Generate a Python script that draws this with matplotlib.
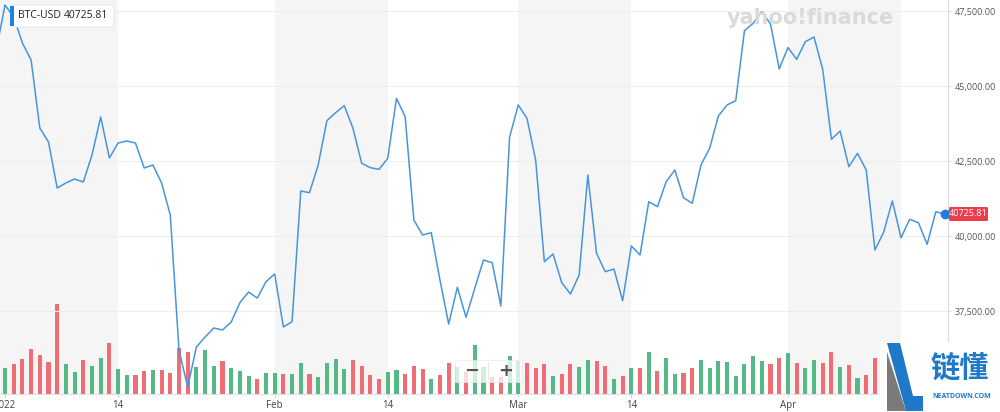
import matplotlib
matplotlib.use("Agg")
import matplotlib.pyplot as plt
import matplotlib.dates as mdates
from matplotlib.patches import FancyBboxPatch, Rectangle, Polygon
import numpy as np
import pandas as pd

plt.rcParams['font.family'] = ['Open Sans', 'DejaVu Sans']

# daily BTC-USD closes, Dec 31 2021 .. Apr 19 2022
dates = pd.date_range('2021-12-31', '2022-04-19', freq='D')
close = [46200,
         # Jan
         47700, 47300, 46433, 45867, 43600, 43133, 41600, 41767, 41900, 41800,
         42700, 43967, 42600, 43100, 43167, 43100, 42267, 42367, 41767, 40700,
         36200, 34967, 36300, 36633, 36933, 36867, 37133, 37777, 38133, 37933,
         38477,
         # Feb
         38733, 36967, 37143, 41500, 41443, 42367, 43843, 44110, 44343, 43590,
         42423, 42277, 42223, 42590, 44590, 43977, 40533, 40033, 40110, 38533,
         37067, 38290, 37290, 38257, 39200, 39110, 37667, 43290,
         # Mar
         44367, 43923, 42533, 39143, 39400, 38443, 38067, 38700, 42033, 39423,
         38810, 38900, 37843, 39667, 39367, 41143, 40977, 41810, 42200, 41277,
         41090, 42367, 42923, 44000, 44367, 44510, 46843, 47090, 47477, 47067,
         45567,
         # Apr
         46283, 45890, 46477, 46633, 45550, 43223, 43500, 42310, 42757, 42200,
         39533, 40123, 41167, 39943, 40557, 40443, 39723, 40810, 40725.81]

# volume, billions USD
volume = [36.0,
          24.0, 27.8, 32.7, 42.1, 36.5, 29.9, 84.2, 27.8, 20.6, 31.8,
          26.2, 33.4, 47.7, 23.1, 17.5, 17.5, 21.5, 22.4, 22.4, 19.9,
          42.7, 39.6, 25.2, 41.1, 26.2, 31.1, 24.6, 21.5, 16.8, 14.3,
          19.9,
          19.9, 18.4, 18.4, 29.3, 19.0, 16.2, 28.7, 32.4, 23.1, 31.8,
          26.2, 17.5, 14.3, 20.6, 22.2, 19.0, 26.2, 23.1, 13.7, 17.5,
          28.7, 25.2, 20.6, 45.8, 25.0, 15.9, 15.9, 35.5,
          30.9, 28.7, 24.6, 27.8, 16.8, 19.0, 27.8, 25.2, 31.8, 30.9,
          26.2, 14.3, 16.8, 24.0, 24.0, 39.6, 21.5, 33.9, 19.0, 19.9,
          24.0, 31.8, 24.6, 30.9, 29.9, 16.8, 27.8, 35.5, 30.9, 28.3,
          33.4,
          38.1, 28.7, 24.6, 31.8, 29.3, 39.0, 25.2, 26.8, 15.2, 17.5,
          33.4, 30.0, 27.0, 26.0, 25.0, 16.0, 15.0, 27.0, 28.0]

price_ticks = [37500, 40000, 42500, 45000, 47500]
tick_dates = ['2022-01-01', '2022-01-14', '2022-02-01', '2022-02-14',
              '2022-03-01', '2022-03-14', '2022-04-01']
tick_labels = ['2022', '14', 'Feb', '14', 'Mar', '14', 'Apr']
band_ranges = [('2021-12-25', '2022-01-14'), ('2022-02-01', '2022-02-14'),
               ('2022-03-01', '2022-03-14'), ('2022-04-01', '2022-04-14')]

last_price = close[-1]

x = mdates.date2num(dates)
d0 = mdates.date2num(pd.Timestamp('2022-01-01'))

fig = plt.figure(figsize=(10, 4.12), dpi=100)
W, H = 1000, 412
def fx(px):
    return px / W
def fy(py):
    return 1 - py / H

ax = fig.add_axes([0, fy(394), fx(948), 1 - fy(394)])
ax.set_xlim(d0 - 0.575, d0 + 108.4)
ax.set_ylim(0, 368.4)

for a, b in band_ranges:
    ax.axvspan(mdates.date2num(pd.Timestamp(a)), mdates.date2num(pd.Timestamp(b)),
               color='#f5f5f5', zorder=0, lw=0)

up = np.r_[True, np.diff(close) >= 0]
colors = np.where(up, '#55b985', '#ef6d74')
ax.bar(x, volume, width=0.47, color=colors, zorder=2)

ax.set_yticks([])
ax.set_xticks([mdates.date2num(pd.Timestamp(d)) for d in tick_dates])
ax.set_xticklabels(tick_labels)
ax.tick_params(axis='x', length=2, color='#cccccc', labelsize=7,
               labelcolor='#444444', pad=2)
for s in ['top', 'left', 'right']:
    ax.spines[s].set_visible(False)
ax.spines['bottom'].set_color('#e0e0e0')

axp = ax.twinx()
axp.set_ylim(47500 - 383 * 2500 / 75, 47500 + 11 * 2500 / 75)
axp.set_yticks(price_ticks)
axp.set_yticklabels(['{:,.2f}'.format(v) for v in price_ticks])
axp.tick_params(axis='y', length=2, color='#dddddd', labelsize=6.5,
                labelcolor='#555555', pad=2.5)
axp.grid(axis='y', color='#eeeeee', lw=0.8, zorder=1)
axp.set_axisbelow(True)
for s in ['top', 'left', 'bottom']:
    axp.spines[s].set_visible(False)
axp.spines['right'].set_color('#dddddd')
axp.plot(x, close, color='#4895dc', lw=1.1, zorder=5)
axp.plot(x[-1], last_price, 'o', color='#1a7ee0', ms=6, zorder=6, clip_on=False)

# yahoo finance watermark
fig.text(fx(810), fy(18), 'yahoo!finance', ha='center', va='center',
         fontsize=15, fontweight='bold', color='#dadada', family='DejaVu Sans')

# last price tag
fig.patches.append(FancyBboxPatch((fx(949), fy(221)), fx(39), fy(207) - fy(221),
                                  boxstyle='round,pad=0,rounding_size=0.002',
                                  fc='#ee3d4a', ec='none', transform=fig.transFigure))
fig.text(fx(968.5), fy(214), '{:.2f}'.format(last_price), ha='center', va='center',
         fontsize=6.5, color='white')

# tooltip
fig.patches.append(FancyBboxPatch((fx(12), fy(27)), fx(102), fy(5) - fy(27),
                                  boxstyle='round,pad=0,rounding_size=0.004',
                                  fc='white', ec='#e6e6e6', lw=0.8,
                                  transform=fig.transFigure, zorder=10))
fig.patches.append(Rectangle((fx(10), fy(26)), fx(4), fy(6) - fy(26),
                             fc='#1e84e0', ec='none', transform=fig.transFigure, zorder=11))
fig.text(fx(18), fy(16), 'BTC-USD', ha='left', va='center', fontsize=7.5,
         color='#222222', zorder=12)
fig.text(fx(64), fy(16), '{:.2f}'.format(last_price), ha='left', va='center',
         fontsize=7.5, color='#222222', zorder=12)

# zoom control
fig.patches.append(Rectangle((fx(455), fy(382)), fx(67), fy(360) - fy(382),
                             fc='white', ec='#e8e8e8', lw=0.6, alpha=0.75,
                             transform=fig.transFigure, zorder=10))
fig.lines.append(plt.Line2D([fx(488), fx(488)], [fy(362), fy(380)], color='#e4e4e4',
                            lw=0.6, transform=fig.transFigure, zorder=11))
fig.text(fx(472), fy(371), '\u2212', ha='center', va='center', fontsize=13,
         fontweight='bold', color='#555555', family='DejaVu Sans', zorder=12)
fig.text(fx(506), fy(371), '+', ha='center', va='center', fontsize=13,
         fontweight='bold', color='#555555', family='DejaVu Sans', zorder=12)

# NEATDOWN logo
fig.patches.append(Rectangle((fx(880), 0), fx(120), fy(342), fc='white', ec='none',
                             transform=fig.transFigure, zorder=20))
fig.patches.append(Polygon([(fx(887), fy(352)), (fx(887), fy(411)), (fx(906), fy(411))],
                           closed=True, fc='#7a7a7a', ec='none',
                           transform=fig.transFigure, zorder=21))
fig.patches.append(Polygon([(fx(887), fy(343)), (fx(900), fy(343)), (fx(913), fy(396)),
                            (fx(923), fy(396)), (fx(923), fy(411)), (fx(906), fy(411))],
                           closed=True, fc='#1f78c8', ec='none',
                           transform=fig.transFigure, zorder=22))
fig.text(fx(960), fy(368), '链懂', ha='center', va='center', fontsize=21,
         fontweight='bold', color='#1f78c8', family=['Noto Sans CJK SC'], zorder=23)
fig.text(fx(962), fy(396), 'NEATDOWN.COM', ha='center', va='center', fontsize=5,
         fontweight='bold', color='#1f78c8', zorder=23)

fig.savefig('out.png', dpi=100)
